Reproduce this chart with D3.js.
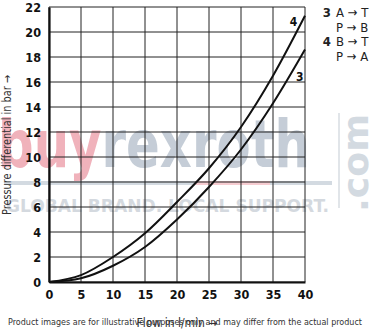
<!DOCTYPE html>
<html>
<head>
<meta charset="utf-8">
<script src="https://cdn.jsdelivr.net/npm/d3@7"></script>
<style>
    body { margin: 0; background: #fff; }
    svg { display: block; }
</style>
</head>
<body>
<svg id="chart" width="370" height="331"></svg>
<script>
    // flow in l/min
    const flow = [0, 5, 10, 15, 20, 25, 30, 35, 40];
    // pressure differential in bar, per curve
    const curve3 = [0, 0.3, 1.3, 2.8, 5.0, 7.6, 10.6, 14.3, 18.6];
    const curve4 = [0, 0.55, 2.0, 3.9, 6.4, 9.1, 12.4, 16.5, 21.3];
    const xTicks = [0, 5, 10, 15, 20, 25, 30, 35, 40];
    const yTicks = [0, 2, 4, 6, 8, 10, 12, 14, 16, 18, 20, 22];
    const legend = [
        ["3", "A \u2192 T"],
        ["", "P \u2192 B"],
        ["4", "B \u2192 T"],
        ["", "P \u2192 A"]
    ];

    const svg = d3.select("#chart");
    const margin = {left: 49, right: 65, top: 7, bottom: 49};
    const width = 370 - margin.left - margin.right;
    const height = 331 - margin.top - margin.bottom;
    const font = "'DejaVu Sans Condensed', 'Liberation Sans Narrow', sans-serif";
    const narrow = "'Liberation Sans Narrow', 'DejaVu Sans Condensed', sans-serif";

    const x = d3.scaleLinear().domain([0, 40]).range([margin.left, margin.left + width]);
    const y = d3.scaleLinear().domain([0, 22]).range([margin.top + height, margin.top]);

    // watermark, behind everything
    const wm = svg.append("g").attr("opacity", 0.5);
    const wmText = wm.append("text")
        .attr("x", -2)
        .attr("y", 167)
        .style("font-family", "'DejaVu Sans', sans-serif")
        .style("font-weight", "bold")
        .style("font-size", "66px")
        .attr("textLength", 312)
        .attr("lengthAdjust", "spacingAndGlyphs");
    wmText.append("tspan").attr("fill", "#e2677a").text("buy");
    wmText.append("tspan").attr("fill", "#8c9db0").text("rexroth");
    wm.append("rect").attr("x", 4).attr("y", 181).attr("width", 328).attr("height", 4).attr("fill", "#a9b6c4");
    wm.append("rect").attr("x", 195).attr("y", 181).attr("width", 75).attr("height", 4).attr("fill", "#ee9aa5");
    wm.append("rect").attr("x", 338).attr("y", 113).attr("width", 2).attr("height", 95).attr("fill", "#c4ccd5");
    wm.append("text")
        .attr("x", 6)
        .attr("y", 212)
        .attr("fill", "#aab4c0")
        .style("font-family", "'DejaVu Sans', sans-serif")
        .style("font-weight", "bold")
        .style("font-size", "17px")
        .attr("textLength", 323)
        .attr("lengthAdjust", "spacingAndGlyphs")
        .text("GLOBAL BRAND. LOCAL SUPPORT.");
    wm.append("text")
        .attr("transform", "translate(368,212) rotate(-90)")
        .attr("fill", "#a9b6c4")
        .style("font-family", "'DejaVu Sans', sans-serif")
        .style("font-weight", "bold")
        .style("font-size", "36px")
        .attr("textLength", 98)
        .attr("lengthAdjust", "spacingAndGlyphs")
        .text(".com");

    // grid
    const grid = svg.append("g").attr("stroke", "#222").attr("stroke-width", 1);
    grid.selectAll(".vx").data(xTicks).join("line")
        .attr("x1", d => x(d)).attr("x2", d => x(d))
        .attr("y1", y(0)).attr("y2", y(22));
    grid.selectAll(".hy").data(yTicks).join("line")
        .attr("x1", x(0)).attr("x2", x(40))
        .attr("y1", d => y(d)).attr("y2", d => y(d));

    // axes (thick)
    const xAxis = svg.append("g")
        .attr("transform", `translate(0,${y(0)})`)
        .call(d3.axisBottom(x).tickValues(xTicks).tickSize(0).tickPadding(8));
    xAxis.select(".domain").attr("stroke", "#111").attr("stroke-width", 2.2);
    const yAxis = svg.append("g")
        .attr("transform", `translate(${x(0)},0)`)
        .call(d3.axisLeft(y).tickValues(yTicks).tickSize(0).tickPadding(8));
    yAxis.select(".domain").attr("stroke", "#111").attr("stroke-width", 2.2);
    svg.selectAll(".tick text")
        .attr("fill", "#111")
        .style("font-family", font)
        .style("font-weight", "bold")
        .style("font-size", "12.5px");

    // curves
    const line = d3.line()
        .x((d, i) => x(flow[i]))
        .y(d => y(d))
        .curve(d3.curveMonotoneX);
    svg.selectAll(".curve").data([curve3, curve4]).join("path")
        .attr("class", "curve")
        .attr("d", line)
        .attr("fill", "none")
        .attr("stroke", "#111")
        .attr("stroke-width", 2);

    const curveLabels = svg.append("g")
        .style("font-family", font)
        .style("font-weight", "bold")
        .style("font-size", "12px")
        .attr("fill", "#111");
    curveLabels.append("text").attr("x", x(38.2)).attr("y", y(20.5)).attr("text-anchor", "middle").text("4");
    curveLabels.append("text").attr("x", x(39.2)).attr("y", y(16.1)).attr("text-anchor", "middle").text("3");

    // legend
    const lg = svg.append("g")
        .style("font-family", narrow)
        .style("font-size", "13px")
        .attr("fill", "#222");
    legend.forEach(([num, txt], i) => {
        const yy = 17 + i * 14.5;
        lg.append("text").attr("x", 331).attr("y", yy).attr("text-anchor", "end")
            .style("font-weight", "bold").text(num);
        lg.append("text").attr("x", 336).attr("y", yy).text(txt);
    });

    // axis titles
    svg.append("text")
        .attr("transform", "translate(11,145) rotate(-90)")
        .attr("text-anchor", "middle")
        .attr("fill", "#333")
        .style("font-family", narrow)
        .style("font-size", "12px")
        .attr("textLength", 140)
        .attr("lengthAdjust", "spacingAndGlyphs")
        .text("Pressure differential in bar \u2192");
    svg.append("text")
        .attr("x", 177)
        .attr("y", 327)
        .attr("text-anchor", "middle")
        .attr("fill", "#333")
        .style("font-family", narrow)
        .style("font-size", "12px")
        .text("Flow in l/min \u2192");

    // footer
    svg.append("text")
        .attr("x", 8)
        .attr("y", 325)
        .attr("fill", "#333")
        .style("font-family", "'DejaVu Sans', sans-serif")
        .style("font-size", "8.5px")
        .attr("textLength", 354)
        .attr("lengthAdjust", "spacingAndGlyphs")
        .text("Product images are for illustrative purposes only and may differ from the actual product");
</script>
</body>
</html>
